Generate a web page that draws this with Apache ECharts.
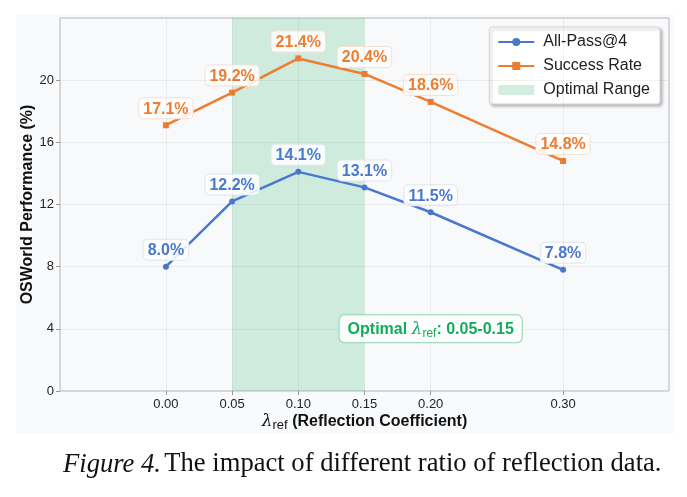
<!DOCTYPE html>
<html>
<head>
<meta charset="utf-8">
<script src="https://cdn.jsdelivr.net/npm/echarts@6/dist/echarts.min.js"></script>
<style>
  html, body { margin: 0; padding: 0; background: #fff; }
  #chart { width: 687px; height: 497px; }
</style>
</head>
<body>
<div id="chart"></div>
<script>
// 数据
var lambdas = [0.00, 0.05, 0.10, 0.15, 0.20, 0.30];
var xTicks = [0.00, 0.05, 0.10, 0.15, 0.20, 0.30];
var allPass = [8.0, 12.2, 14.1, 13.1, 11.5, 7.8];
var successRate = [17.1, 19.2, 21.4, 20.4, 18.6, 14.8];
var optimalRange = [0.05, 0.15];
var yTicks = [0, 4, 8, 12, 16, 20];

var blue = '#4a78cf';
var orange = '#ee7d31';
var green = '#12ad5c';
var font = 'Liberation Sans';

function pairs(ys) {
    return lambdas.map(function (x, i) { return [x, ys[i]]; });
}

function pctLabel(color, border) {
    return {
        show: true,
        position: 'top',
        distance: 4,
        formatter: function (p) { return p.value[1].toFixed(1) + '%'; },
        color: color,
        fontFamily: font,
        fontWeight: 'bold',
        fontSize: 16,
        backgroundColor: 'rgba(255,255,255,0.85)',
        borderColor: border,
        borderWidth: 1,
        borderRadius: 4,
        padding: [3, 4, 1, 4]
    };
}

var chart = echarts.init(document.getElementById('chart'), null, { renderer: 'canvas' });

var option = {
    backgroundColor: '#ffffff',
    animation: false,
    graphic: [
        {
            type: 'rect', z: -10, silent: true,
            shape: { x: 16, y: 15, width: 658, height: 418 },
            style: { fill: '#f9fafc' }
        },
        {
            type: 'text', left: 63, top: 451,
            style: {
                text: '{i|Figure 4.} {n|The impact of different ratio of reflection data.}',
                rich: {
                    i: { fontFamily: 'Liberation Serif', fontStyle: 'italic', fontSize: 26.6, fill: '#111' },
                    n: { fontFamily: 'Liberation Serif', fontSize: 26.6, fill: '#111' }
                }
            }
        }
    ],
    grid: {
        left: 60, right: 18, top: 18, bottom: 106,
        show: true,
        backgroundColor: '#f8f9fb',
        borderColor: '#b5b5b5',
        borderWidth: 1
    },
    legend: {
        right: 27, top: 27,
        orient: 'vertical',
        itemWidth: 36, itemHeight: 10, itemGap: 8,
        padding: [7, 10, 6, 8],
        backgroundColor: '#ffffff',
        borderColor: '#d6d6d6',
        borderWidth: 1,
        borderRadius: 3,
        shadowColor: 'rgba(0,0,0,0.25)',
        shadowBlur: 3,
        shadowOffsetX: 2, shadowOffsetY: 2,
        textStyle: { fontFamily: font, fontSize: 16, color: '#222', padding: [0, 0, 0, 4] },
        data: [
            { name: 'All-Pass@4' },
            { name: 'Success Rate' },
            { name: 'Optimal Range', icon: 'rect', itemStyle: { color: '#d3eee0' } }
        ]
    },
    xAxis: {
        type: 'value',
        min: -0.08, max: 0.38,
        name: '{l|λ}{s|ref} (Reflection Coefficient)',
        nameLocation: 'middle',
        nameMoveOverlap: false,
        nameGap: 21,
        nameTextStyle: {
            fontFamily: font, fontWeight: 'bold', fontSize: 16, color: '#111',
            rich: {
                l: { fontFamily: 'DejaVu Serif', fontStyle: 'italic', fontWeight: 'normal', fontSize: 17, color: '#111' },
                s: { fontFamily: font, fontWeight: 'normal', fontSize: 13, color: '#111', verticalAlign: 'bottom', padding: [7, 0, 0, 0] }
            }
        },
        axisLine: { show: false },
        axisTick: {
            show: true, length: 4, lineStyle: { color: '#999' },
            customValues: xTicks
        },
        axisLabel: {
            fontFamily: font, fontSize: 13, color: '#222', margin: 7,
            customValues: xTicks,
            formatter: function (v) { return v.toFixed(2); }
        },
        splitLine: { show: false }
    },
    yAxis: {
        type: 'value',
        min: 0, max: 24,
        name: 'OSWorld Performance (%)',
        nameLocation: 'middle',
        nameMoveOverlap: false,
        nameGap: 24,
        nameTextStyle: { fontFamily: font, fontWeight: 'bold', fontSize: 16, color: '#111' },
        axisLine: { show: false, onZero: false },
        axisTick: {
            show: true, length: 4, lineStyle: { color: '#999' },
            customValues: yTicks
        },
        axisLabel: {
            fontFamily: font, fontSize: 13, color: '#222', margin: 6,
            customValues: yTicks
        },
        splitLine: { show: false }
    },
    series: [
        {
            name: 'Optimal Range',
            type: 'line',
            data: [],
            z: 1,
            itemStyle: { color: '#d3eee0' },
            markArea: {
                silent: true,
                itemStyle: { color: 'rgba(46,182,110,0.2)' },
                data: [[{ xAxis: optimalRange[0] }, { xAxis: optimalRange[1] }]]
            },
            markLine: {
                silent: true, symbol: 'none', label: { show: false },
                lineStyle: { color: 'rgba(0,0,0,0.05)', type: 'solid', width: 1 },
                data: xTicks.map(function (v) { return { xAxis: v }; })
                    .concat(yTicks.slice(1).map(function (v) { return { yAxis: v }; }))
            },
            markPoint: {
                silent: true,
                symbol: 'rect', symbolSize: 0,
                data: [{ coord: [0.20, 4] }],
                label: {
                    show: true,
                    position: 'inside',
                    formatter: '{b|Optimal }{l|λ}{s|ref}{b|: 0.05-0.15}',
                    backgroundColor: 'rgba(255,255,255,0.9)',
                    borderColor: '#8fd6ae',
                    borderWidth: 1,
                    borderRadius: 5,
                    padding: [4, 8, 3, 8],
                    rich: {
                        b: { fontFamily: font, fontWeight: 'bold', fontSize: 16, color: green },
                        l: { fontFamily: 'DejaVu Serif', fontStyle: 'italic', fontSize: 17, color: green },
                        s: { fontFamily: font, fontSize: 12, color: green, verticalAlign: 'bottom', padding: [8, 0, 0, 0] }
                    }
                }
            }
        },
        {
            name: 'All-Pass@4',
            type: 'line',
            data: pairs(allPass),
            z: 3,
            symbol: 'circle', symbolSize: 6,
            lineStyle: { color: blue, width: 2.5 },
            itemStyle: { color: blue },
            label: pctLabel(blue, '#dfe6f5')
        },
        {
            name: 'Success Rate',
            type: 'line',
            data: pairs(successRate),
            z: 3,
            symbol: 'rect', symbolSize: 6,
            lineStyle: { color: orange, width: 2.5 },
            itemStyle: { color: orange },
            label: pctLabel(orange, '#f8e2d2')
        }
    ]
};

chart.setOption(option);
</script>
</body>
</html>
